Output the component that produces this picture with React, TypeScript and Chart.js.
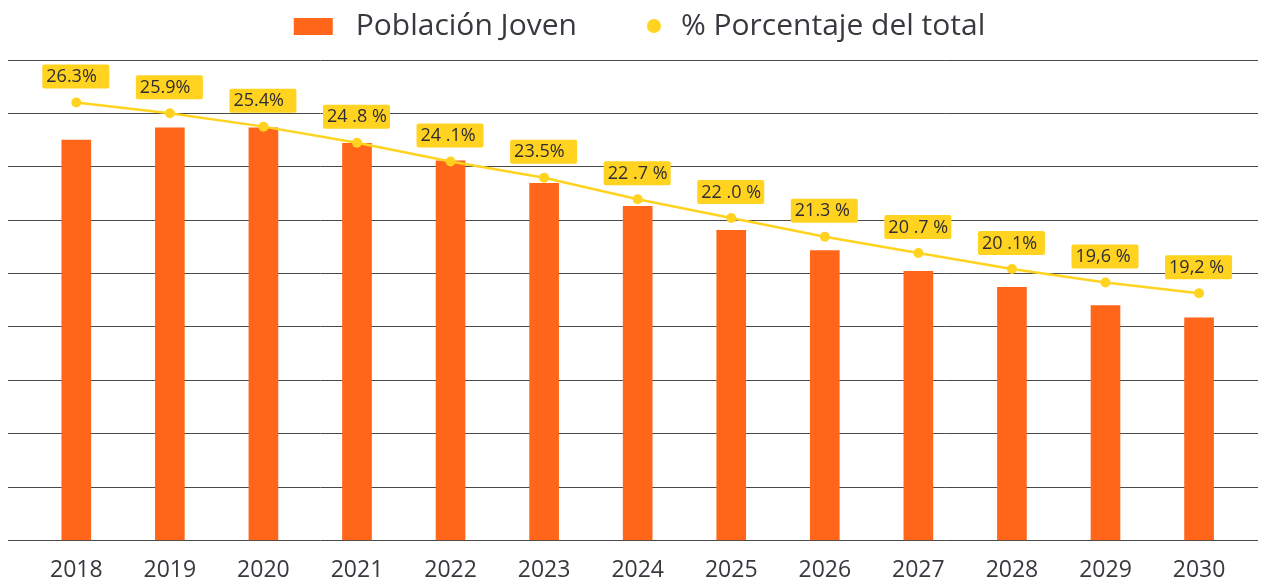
import React, { useEffect, useRef } from 'react';
import { Chart, registerables } from 'chart.js';

Chart.register(...registerables);

// ---- Data ----
const years = [2018, 2019, 2020, 2021, 2022, 2023, 2024, 2025, 2026, 2027, 2028, 2029, 2030];
const yearLabels = ['2018', '2019', '2020', '2021', '2022', '2023', '2024', '2025', '2026', '2027', '2028', '2029', '2030'];
const poblacionJoven = [7.5, 7.73, 7.73, 7.44, 7.11, 6.69, 6.26, 5.81, 5.43, 5.04, 4.74, 4.4, 4.17];
const porcentajeTotal = [26.3, 25.9, 25.4, 24.8, 24.1, 23.5, 22.7, 22.0, 21.3, 20.7, 20.1, 19.6, 19.2];
const porcentajeLabels = ['26.3%', '25.9%', '25.4%', '24 .8 %', '24 .1%', '23.5%', '22 .7 %', '22 .0 %', '21.3 %', '20 .7 %', '20 .1%', '19,6 %', '19,2 %'];
const seriesNames = ['Población Joven', '% Porcentaje del total'];

const ORANGE = '#FF661A';
const YELLOW = '#FFD31F';
const TEXT = '#3a383e';
const GRID = '#4a4a4a';

const LEGEND_BOX = 81;

function makeRectMarker(): HTMLCanvasElement {
  const c = document.createElement('canvas');
  c.width = LEGEND_BOX;
  c.height = 17;
  const ctx = c.getContext('2d')!;
  ctx.fillStyle = ORANGE;
  ctx.fillRect(34, 0, 39, 17);
  return c;
}

function makeDotMarker(): HTMLCanvasElement {
  const c = document.createElement('canvas');
  c.width = LEGEND_BOX;
  c.height = 16;
  const ctx = c.getContext('2d')!;
  ctx.fillStyle = YELLOW;
  ctx.beginPath();
  ctx.arc(69, 8, 7, 0, Math.PI * 2);
  ctx.fill();
  return c;
}

const labelPlugin = {
  id: 'pctLabels',
  afterDatasetsDraw(chart: any) {
    const meta = chart.getDatasetMeta(1);
    const ctx = chart.ctx;
    ctx.save();
    ctx.font = '18px "Open Sans"';
    ctx.textBaseline = 'middle';
    ctx.textAlign = 'left';
    meta.data.forEach((pt: any, i: number) => {
      const { x, y } = pt.getProps(['x', 'y'], true);
      const bw = 67;
      const bh = 24;
      const bx = x - 34;
      const by = y - 38;
      ctx.fillStyle = YELLOW;
      ctx.beginPath();
      if (ctx.roundRect) ctx.roundRect(bx, by, bw, bh, 2);
      else ctx.rect(bx, by, bw, bh);
      ctx.fill();
      ctx.fillStyle = '#2f2d33';
      ctx.fillText(porcentajeLabels[i], bx + 4, by + bh / 2 + 0.5);
    });
    ctx.restore();
  },
};

const legendMargin = {
  id: 'legendMargin',
  beforeInit(chart: any) {
    const legend = chart.legend;
    if (!legend) return;
    const origFit = legend.fit;
    legend.fit = function () {
      origFit.call(this);
      this.height += 9;
      if (this.lineWidths && this.lineWidths.length) this.lineWidths[0] += 26;
    };
  },
};

export default function App() {
  const ref = useRef<HTMLCanvasElement | null>(null);

  useEffect(() => {
    document.body.style.margin = '0';
    const canvas = ref.current;
    if (!canvas) return;
    const rectMarker = makeRectMarker();
    const dotMarker = makeDotMarker();

    const chart = new Chart(canvas, {
      type: 'bar',
      data: {
        datasets: [
          {
            type: 'bar',
            label: seriesNames[0],
            data: years.map((yr, i) => ({ x: yr, y: poblacionJoven[i] })),
            backgroundColor: ORANGE,
            barThickness: 29,
            yAxisID: 'y',
            order: 2,
          },
          {
            type: 'line',
            label: seriesNames[1],
            data: years.map((yr, i) => ({ x: yr, y: porcentajeTotal[i] })),
            borderColor: YELLOW,
            backgroundColor: YELLOW,
            borderWidth: 2.5,
            pointRadius: 5,
            pointBorderWidth: 0,
            pointHoverRadius: 5,
            tension: 0,
            yAxisID: 'y1',
            order: 1,
          },
        ] as any,
      },
      options: {
        animation: false,
        responsive: true,
        maintainAspectRatio: false,
        layout: { padding: { top: 3, left: 8, right: 0, bottom: -21 } },
        plugins: {
          tooltip: { enabled: false },
          legend: {
            display: true,
            position: 'top',
            labels: {
              usePointStyle: true,
              pointStyleWidth: LEGEND_BOX,
              padding: 8,
              color: TEXT,
              font: { family: '"Open Sans"', size: 30 },
              generateLabels: (c: any) => {
                const items = Chart.defaults.plugins.legend.labels.generateLabels(c);
                items.forEach((it: any) => {
                  it.pointStyle = it.datasetIndex === 0 ? rectMarker : dotMarker;
                });
                return items;
              },
              sort: (a: any, b: any) => a.datasetIndex - b.datasetIndex,
            },
          },
        },
        scales: {
          x: {
            type: 'linear',
            min: 2017.27,
            max: 2030.63,
            offset: false,
            grid: { display: false, drawTicks: false },
            border: { display: false },
            ticks: {
              stepSize: 1,
              includeBounds: false,
              autoSkip: false,
              maxRotation: 0,
              padding: 16,
              color: TEXT,
              font: { family: '"Open Sans"', size: 23 },
              callback: (v: any) => {
                const idx = years.indexOf(Number(v));
                return idx >= 0 ? yearLabels[idx] : '';
              },
            },
          },
          y: {
            position: 'left',
            min: 0,
            max: 9,
            ticks: { display: false, stepSize: 1 },
            grid: { color: GRID, lineWidth: 1, drawTicks: false },
            border: { display: false },
          },
          y1: {
            position: 'right',
            display: false,
            min: 10,
            max: 27.88,
          },
        },
      } as any,
      plugins: [labelPlugin, legendMargin] as any,
    });

    return () => chart.destroy();
  }, []);

  return (
    <div style={{ width: 1263, height: 579, position: 'relative' }}>
      <canvas ref={ref} />
    </div>
  );
}
